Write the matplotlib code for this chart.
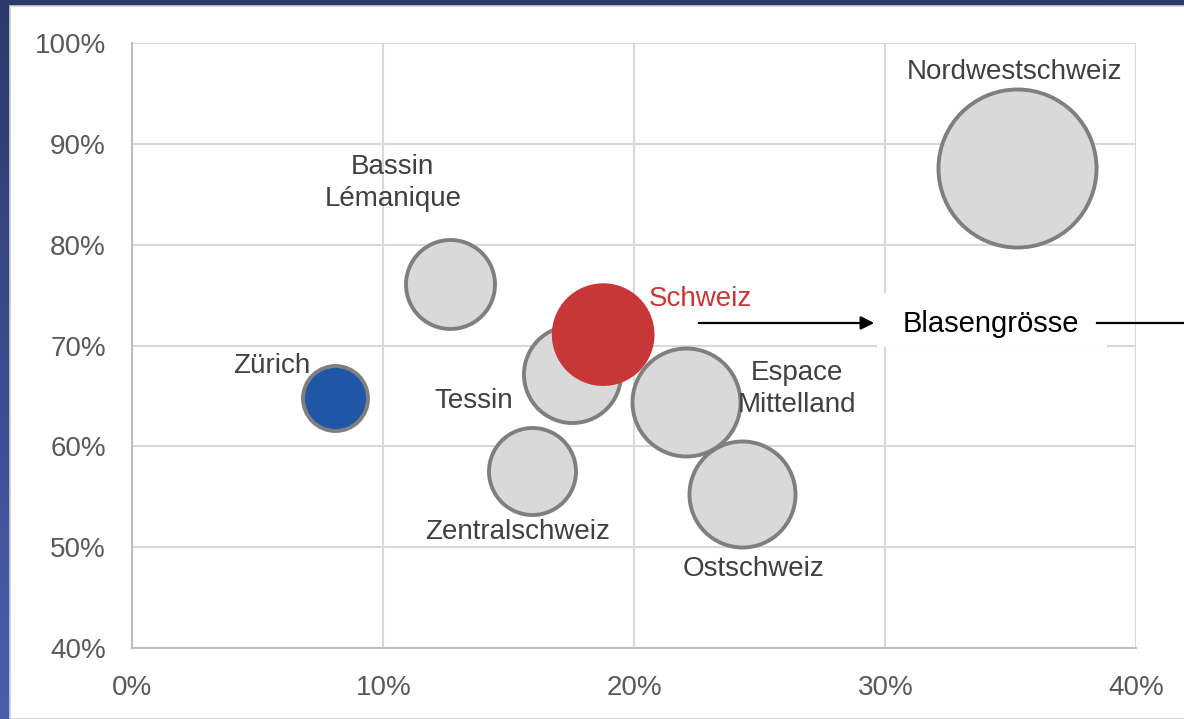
import matplotlib
matplotlib.use("Agg")
import matplotlib.pyplot as plt
import numpy as np
from matplotlib.patches import Rectangle, FancyArrowPatch
from matplotlib.ticker import FuncFormatter
from matplotlib.colors import LinearSegmentedColormap

plt.rcParams['font.family'] = ['Liberation Sans', 'DejaVu Sans']

# ---- data ----
regions = ["Zürich", "Bassin\nLémanique", "Tessin", "Zentralschweiz",
           "Espace\nMittelland", "Ostschweiz", "Nordwestschweiz", "Schweiz"]
x_vals = [8.06, 12.65, 17.52, 15.91, 22.06, 24.30, 35.26, 18.76]   # %
y_vals = [64.75, 76.11, 67.21, 57.56, 64.43, 55.23, 87.67, 71.08]  # %
bubble_size = [16.9, 31.7, 37.7, 30.3, 46.7, 45.0, 100.0, 42.2]
x_ticks = [0, 10, 20, 30, 40]
y_ticks = [40, 50, 60, 70, 80, 90, 100]

# ---- styles ----
fills = ["#1f57a6", "#d9d9d9", "#d9d9d9", "#d9d9d9", "#d9d9d9", "#d9d9d9", "#d9d9d9", "#c83737"]
edges = ["#7f7f7f"] * 7 + ["none"]
label_colors = ["#404040"] * 7 + ["#c83737"]
label_offsets = [(-45, 23), (-41, 73), (-71, -20), (-10, -44),
                 (80, 9), (8, -54), (-2, 69), (70, 26)]

W, H = 1184, 719
fig = plt.figure(figsize=(W / 100, H / 100), dpi=100)

# background gradient
bg = fig.add_axes([0, 0, 1, 1], zorder=-10)
grad = np.linspace(0, 1, 256).reshape(-1, 1)
cmap = LinearSegmentedColormap.from_list("bg", ["#2b3a6a", "#4a5eae"])
bg.imshow(grad, aspect="auto", cmap=cmap, extent=[0, 1, 0, 1], origin="upper")
bg.axis("off")
bg.add_patch(Rectangle((10 / W, 0), 1, (H - 6) / H, facecolor="white",
                       edgecolor="#d0d0d0", linewidth=1.2, transform=bg.transAxes))
bg.set_xlim(0, 1); bg.set_ylim(0, 1)

ax = fig.add_axes([132.3 / W, (H - 647.7) / H, 1004 / W, 604.4 / H])
ax.set_facecolor("none")
ax.set_xlim(0, 40)
ax.set_ylim(40, 100)
ax.set_xticks(x_ticks)
ax.set_yticks(y_ticks)
fmt = FuncFormatter(lambda v, p: f"{v:.0f}%")
ax.xaxis.set_major_formatter(fmt)
ax.yaxis.set_major_formatter(fmt)
ax.grid(True, color="#d9d9d9", linewidth=1.5, zorder=0)
ax.set_axisbelow(True)
for s in ["top", "right"]:
    ax.spines[s].set_visible(False)
for s in ["left", "bottom"]:
    ax.spines[s].set_color("#bfbfbf")
    ax.spines[s].set_linewidth(1.5)
ax.tick_params(axis="both", length=0, labelsize=20, labelcolor="#595959")
ax.tick_params(axis="x", pad=20)
ax.tick_params(axis="y", pad=19)

k = 129.5
for i in range(len(regions)):
    ax.scatter(x_vals[i], y_vals[i], s=bubble_size[i] * k, facecolor=fills[i],
               edgecolor=edges[i], linewidth=2.8, zorder=3 + i)
    ax.annotate(regions[i], (x_vals[i], y_vals[i]), xytext=label_offsets[i],
                textcoords="offset points", ha="center", va="center",
                fontsize=20, color=label_colors[i], zorder=20, linespacing=1.3)

# Blasengrösse legend box
ax.add_patch(Rectangle((877 / W, (H - 347) / H), 230 / W, 54 / H, transform=fig.transFigure,
                       facecolor="white", edgecolor="none", zorder=15, clip_on=False))
fig.text(991 / W, (H - 324) / H, "Blasengrösse", ha="center", va="center",
         fontsize=21, color="black", zorder=30)
fig.add_artist(FancyArrowPatch(
    (696 / W, (H - 323) / H), (877 / W, (H - 323) / H), transform=fig.transFigure,
    arrowstyle="-|>", mutation_scale=20, color="black", linewidth=1.6, zorder=30))
fig.add_artist(plt.Line2D([1097 / W, 1.0], [(H - 323) / H] * 2, transform=fig.transFigure,
                          color="black", linewidth=1.6, zorder=30))

fig.savefig("out.png", dpi=100)
